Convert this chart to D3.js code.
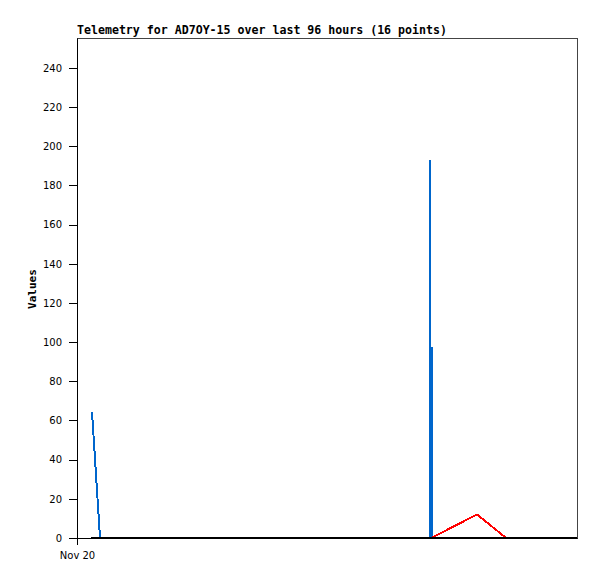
<!DOCTYPE html>
<html lang="en">
<head>
<meta charset="UTF-8">
<title>Telemetry AD7OY-15</title>
<script src="https://d3js.org/d3.v7.min.js"></script>
<style>
    body { margin:0; background:#fff; }
    .tick text { font-family:"DejaVu Sans", sans-serif; font-size:10px; fill:#000; }
    .title, .ylabel { font-family:"DejaVu Sans Mono", monospace; font-weight:bold; fill:#000; }
</style>
</head>
<body>
<div id="chart"></div>
<script>
    // heures depuis Nov 20 00:00 et valeurs
    let blueHours  = [2.88, 4.42, 67.8, 67.8, 67.8, 68.15, 68.15],
        blueValues = [64.5, 0, 0, 193, 97, 97, 0],
        redHours   = [68.0, 76.8, 82.4],
        redValues  = [0, 12, 0],
        blackHours = [2.75, 96],
        blackValues= [0, 0],
        yTicks = [0,20,40,60,80,100,120,140,160,180,200,220,240],
        start = new Date(2023, 10, 20, 0, 0),
        xTickDates = [start];

    let W = 597, H = 579,
        m = {left:77, right:20, top:38, bottom:41},
        toDate = h => new Date(start.getTime() + h*3600000);

    let svg = d3.select('#chart').append('svg').attr('width',W).attr('height',H);

    let x = d3.scaleTime().domain([start, toDate(96)]).range([m.left, W-m.right]),
        y = d3.scaleLinear().domain([0, 255.3]).range([H-m.bottom, m.top]);

    // cadre
    svg.append('rect')
        .attr('x', m.left+0.5).attr('y', m.top+0.5)
        .attr('width', W-m.right-m.left).attr('height', H-m.bottom-m.top)
        .style('fill','none').style('stroke','#444').style('shape-rendering','crispEdges');

    svg.append('g')
        .attr('transform','translate('+m.left+',0)')
        .call(d3.axisLeft(y).tickValues(yTicks).tickSize(8).tickPadding(7).tickSizeOuter(0))
        .call(g=>g.select('.domain').style('stroke','#000'))
        .selectAll('line').style('shape-rendering','crispEdges');

    svg.append('g')
        .attr('transform','translate(0,'+(H-m.bottom)+')')
        .call(d3.axisBottom(x).tickValues(xTickDates).tickFormat(d3.timeFormat('%b %d')).tickSize(7).tickPadding(7).tickSizeOuter(0))
        .call(g=>g.select('.domain').style('stroke','#000'))
        .selectAll('line').style('shape-rendering','crispEdges');

    function series(hours, values, color){
        let pts = hours.map((h,i)=>[toDate(h), values[i]]);
        svg.append('path')
            .datum(pts)
            .style('fill','none')
            .style('stroke', color)
            .style('stroke-width', 2)
            .style('shape-rendering','crispEdges')
            .attr('d', d3.line().x(d=>x(d[0])).y(d=>y(d[1])));
    }
    series(blueHours, blueValues, '#0066cc');
    series(redHours, redValues, '#ff0000');
    series(blackHours, blackValues, '#000000');

    svg.append('text').attr('class','title')
        .attr('x', m.left).attr('y', 34)
        .style('font-size','11.6px')
        .text('Telemetry for AD7OY-15 over last 96 hours (16 points)');

    svg.append('text').attr('class','ylabel')
        .attr('transform','translate(36,'+(289)+') rotate(-90)')
        .attr('text-anchor','middle')
        .style('font-size','11px')
        .text('Values');
</script>
</body>
</html>
